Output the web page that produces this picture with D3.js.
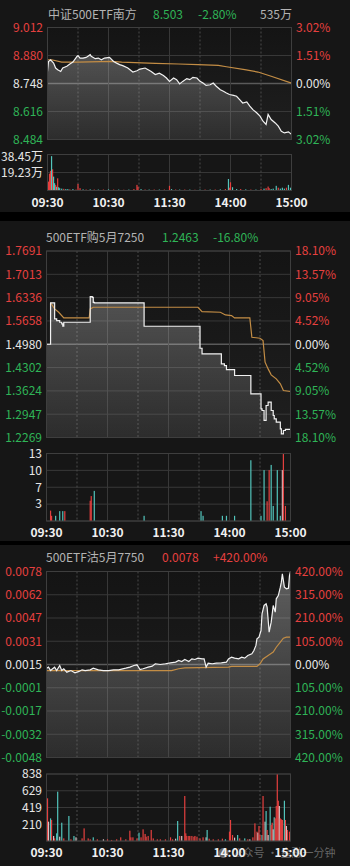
<!DOCTYPE html>
<meta charset="utf-8">
<head>
  <title>分时图</title>
</head>
<style>
body { margin: 0; background: #161616; }
text { font-family: "Noto Sans CJK SC", "Noto Sans", sans-serif; font-size: 12px; }
</style>
<body>
<script src="https://cdnjs.cloudflare.com/ajax/libs/d3/7.8.5/d3.min.js"></script>
<script>

// ---- time axis (minutes since 09:30, lunch break removed)
var timeTicks = [0, 60, 120, 180, 240];
var timeLabels = ["09:30", "10:30", "11:30", "14:00", "15:00"];

// ---- panel 1: 中证500ETF南方
var p1Min = [0,1,3,6,8,10,13,15,19,22,25,29,30,32,35,38,42,43,47,50,53,56,61,65,68,71,74,79,84,88,91,96,99,102,106,110,114,117,120,124,127,130,133,137,140,143,147,150,153,156,160,163,166,170,173,176,179,183,186,189,192,196,199,202,206,209,212,215,217,220,224,227,230,233,237,240];
var p1Price = [8.805,8.852,8.860,8.844,8.821,8.813,8.805,8.821,8.829,8.840,8.849,8.876,8.880,8.868,8.868,8.871,8.884,8.876,8.865,8.868,8.860,8.868,8.871,8.852,8.844,8.837,8.832,8.821,8.802,8.808,8.816,8.821,8.813,8.805,8.790,8.797,8.786,8.774,8.758,8.774,8.766,8.746,8.758,8.771,8.766,8.777,8.774,8.758,8.750,8.739,8.742,8.750,8.735,8.719,8.711,8.703,8.696,8.692,8.688,8.672,8.656,8.661,8.641,8.625,8.609,8.594,8.570,8.555,8.602,8.578,8.562,8.547,8.523,8.515,8.520,8.508];
var p1AvgMin = [0,4,14,30,63,73,106,129,148,168,176,194,207,220,240];
var p1Avg = [8.860,8.860,8.849,8.849,8.852,8.849,8.843,8.840,8.837,8.833,8.827,8.813,8.802,8.782,8.750];
var p1Left = ["9.012", "8.880", "8.748", "8.616", "8.484"];
var p1Right = ["3.02%", "1.51%", "0.00%", "1.51%", "3.02%"];
var v1Min = [1,2,3,4,5,6,7,8,9,10,11,12,14,16,18,20,22,25,28,30,32,35,38,42,46,50,55,60,65,70,75,80,85,88,89,92,96,100,105,110,115,120,122,126,130,135,140,145,150,155,160,165,170,175,178,179,180,182,186,190,195,200,205,210,213,215,217,218,220,222,225,227,229,231,233,235,237,239];
var v1Val = [9.5,18,21,36.7,22.6,14.8,7.8,6,4,13,3.5,2.5,2,1.8,1.5,1.5,1.2,1.5,1,7,2.5,1.2,1,1.2,1,1,1,1.2,1,1,0.8,1,1.5,6,4,1.5,1,1,1,1,1,5,1.5,1,1,1,1,0.8,1,1,1,1,1.2,1.5,12.3,3,8.8,3.5,1.5,1.5,1.2,1,1,1.5,2,2.5,4.2,2.5,1.5,2,5,3,2,3,2,3,6,3];
var v1Dir = [1,1,1,-1,1,-1,-1,1,-1,1,-1,-1,-1,1,-1,-1,1,-1,1,1,1,-1,1,-1,1,-1,1,-1,1,-1,1,-1,1,1,1,-1,1,-1,1,-1,1,1,-1,1,-1,1,-1,1,-1,1,-1,1,-1,1,-1,1,1,-1,-1,1,-1,1,-1,1,-1,1,1,1,-1,-1,-1,1,-1,-1,-1,1,-1,-1];
var v1TickVals = [38.45, 19.23];
var v1TickLabels = ["38.45万", "19.23万"];

// ---- panel 2: 500ETF购5月7250
var p2Min = [0,4,8,10,13,15,16,17,43,45,46,47,96,151,153,172,175,177,185,201,211,212,214,216,218,221,223,224,226,230,231,233,235,240];
var p2Price = [1.4980,1.6181,1.5716,1.5668,1.5619,1.5571,1.5503,1.5619,1.6365,1.6345,1.6200,1.6181,1.5503,1.4864,1.4700,1.4409,1.4361,1.4245,1.4071,1.3538,1.3103,1.3054,1.2764,1.3199,1.3296,1.3054,1.2909,1.2812,1.2715,1.2522,1.2377,1.2473,1.2503,1.2503];
var p2AvgMin = [4,6,8,12,17,42,43,46,149,153,171,176,182,185,200,202,210,213,215,218,221,226,230,233,240];
var p2Avg = [1.6181,1.6100,1.6007,1.5910,1.5745,1.5745,1.6007,1.6055,1.6055,1.5929,1.5910,1.5832,1.5813,1.5745,1.5745,1.5184,1.5155,1.5087,1.4458,1.4264,1.4090,1.3974,1.3829,1.3635,1.3606];
var p2Left = ["1.7691","1.7013","1.6336","1.5658","1.4980","1.4302","1.3624","1.2947","1.2269"];
var p2Right = ["18.10%","13.57%","9.05%","4.52%","0.00%","4.52%","9.05%","13.57%","18.10%"];
var v2Min = [4,5,9,13,16,18,43,44,47,96,152,154,173,177,185,201,211,214,217,219,221,223,227,230,232,233,235];
var v2Val = [2.0,1,1,1.9,1.9,1.9,3.9,4.8,5.8,1,1.9,1,1,1,1,11.7,1,9.8,3.8,9.8,10.8,2.9,9.8,1,9.8,12.9,2.9];
var v2Dir = [1,1,-1,-1,-1,1,1,1,-1,-1,-1,-1,-1,-1,-1,-1,-1,-1,1,1,-1,-1,-1,-1,0,1,1];
var v2TickVals = [13, 9.75, 6.5, 3.25];
var v2TickLabels = ["13", "10", "7", "3"];

// ---- panel 3: 500ETF沽5月7750
var p3Min = [0,2,4,6,8,10,13,15,17,20,24,28,32,35,38,43,46,51,56,61,66,71,78,82,86,89,92,95,100,104,107,112,117,122,127,130,133,136,140,143,146,149,153,155,157,159,163,167,172,177,179,182,185,189,192,195,198,202,204,206,207,209,211,212,214,216,217,219,221,223,225,226,228,230,231,232,234,236,238,239,240];
var p3Price = [0.00125,0.00132,0.00109,0.00121,0.00132,0.00109,0.00143,0.00109,0.00121,0.00098,0.00109,0.00094,0.00103,0.00114,0.00109,0.00114,0.00125,0.00114,0.00109,0.00109,0.00114,0.00114,0.00125,0.00132,0.00143,0.00148,0.00116,0.00121,0.00132,0.00139,0.00155,0.00150,0.00155,0.00161,0.00166,0.00177,0.00170,0.00184,0.00170,0.00188,0.00184,0.00193,0.00188,0.00188,0.00132,0.00159,0.00155,0.00159,0.00161,0.00166,0.00188,0.00200,0.00193,0.00188,0.00200,0.00193,0.00211,0.00222,0.00245,0.00279,0.00324,0.00335,0.00380,0.00493,0.00550,0.00561,0.00538,0.00369,0.00437,0.00550,0.00505,0.00595,0.00617,0.00674,0.00708,0.00764,0.00674,0.00663,0.00667,0.00753,0.00780];
var p3AvgMin = [0,32,64,123,130,136,179,182,207,210,213,218,223,226,230,233,236,240];
var p3Avg = [0.00109,0.00109,0.00109,0.00109,0.00121,0.00127,0.00132,0.00137,0.00137,0.00155,0.00188,0.00211,0.00234,0.00267,0.00301,0.00328,0.00335,0.00335];
var p3Left = ["0.0078","0.0062","0.0047","0.0031","0.0015","-0.0001","-0.0017","-0.0032","-0.0048"];
var p3Right = ["420.00%","315.00%","210.00%","105.00%","0.00%","105.00%","210.00%","315.00%","420.00%"];
var v3Min = [1,2,4,5,7,8,10,11,13,15,17,22,24,27,29,35,37,41,43,46,50,56,60,64,69,73,78,82,83,85,89,91,93,95,97,98,100,103,105,109,112,117,122,124,127,129,131,133,136,137,138,140,141,143,145,146,148,151,154,157,158,160,164,169,173,176,180,181,183,185,188,190,195,198,200,203,205,207,208,209,210,212,213,215,216,217,218,220,221,222,223,224,225,226,227,228,229,230,231,232,234,235,236,237,239];
var v3Val = [534,242,283,263,63,33,96,617,54,229,33,313,21,63,46,33,158,33,21,46,21,21,21,13,21,46,21,129,46,46,33,104,46,146,88,54,63,138,33,21,21,21,46,21,29,250,63,63,563,96,63,63,63,63,54,63,54,33,46,46,138,29,21,21,29,21,117,263,75,42,75,33,33,21,21,46,221,117,104,188,75,75,563,242,375,138,75,429,200,229,146,296,283,438,838,504,438,283,271,263,504,263,188,138,117];
var v3Dir = [1,0,-1,1,0,1,-1,-1,0,-1,1,-1,1,-1,0,1,1,1,1,-1,1,0,1,1,1,1,1,1,1,1,1,-1,1,1,1,1,1,1,1,1,1,1,1,1,0,-1,1,0,1,1,1,1,1,1,1,1,1,1,1,0,-1,1,1,1,1,-1,1,1,1,0,-1,1,-1,1,0,1,1,1,0,1,1,-1,1,0,-1,1,0,-1,1,1,0,-1,1,1,1,1,0,1,1,1,-1,1,0,1,1];
var v3TickVals = [838, 628.5, 419, 209.5];
var v3TickLabels = ["838", "629", "419", "210"];

var RED = "#e5403f", GREEN = "#2fb457", WHITE = "#e6e6e6", GRAY = "#b4b4b4";
var AVG = "#c38d45", TEAL = "#52c4bb", PALE = "#d9c3c6";

var svg = d3.select("body").append("svg").attr("width", 350).attr("height", 866);
svg.append("rect").attr("width", 350).attr("height", 866).attr("fill", "#161616");

var defs = svg.append("defs");

function zip(a, b) { return a.map(function(d, i) { return [d, b[i]]; }); }

function drawPanel(c, id) {
  var x = d3.scaleLinear().domain([0, 240]).range([c.x0, c.x1]);
  var y = d3.scaleLinear().domain(c.domain).range([c.bottom, c.top]);
  var vy = d3.scaleLinear().domain([0, c.volMax]).range([c.vBottom, c.vTop]);
  var g = svg.append("g");

  var bg = defs.append("linearGradient").attr("id", "bg" + id)
    .attr("gradientUnits", "userSpaceOnUse").attr("x1", 0).attr("x2", 0)
    .attr("y1", c.top).attr("y2", c.bottom);
  bg.append("stop").attr("offset", 0).attr("stop-color", "#141414");
  bg.append("stop").attr("offset", 1).attr("stop-color", "#1f1f1f");
  g.append("rect").attr("x", c.x0).attr("y", c.top)
    .attr("width", c.x1 - c.x0).attr("height", c.bottom - c.top).attr("fill", "url(#bg" + id + ")");

  var fg = defs.append("linearGradient").attr("id", "fill" + id)
    .attr("gradientUnits", "userSpaceOnUse").attr("x1", 0).attr("x2", 0)
    .attr("y1", c.top).attr("y2", c.bottom);
  fg.append("stop").attr("offset", 0).attr("stop-color", "#fff").attr("stop-opacity", 0.32);
  fg.append("stop").attr("offset", 1).attr("stop-color", "#fff").attr("stop-opacity", 0.06);

  // title row
  c.title.forEach(function(t) {
    g.append("text").attr("x", t[0]).attr("y", c.titleY).attr("fill", t[2]).text(t[1]);
  });

  // price grid
  var mid = (c.left.length - 1) / 2;
  var step = (c.domain[1] - c.domain[0]) / (c.left.length - 1);
  c.left.forEach(function(lab, i) {
    var v = c.domain[1] - i * step;
    var col = i < mid ? RED : (i > mid ? GREEN : WHITE);
    g.append("line").attr("x1", c.x0).attr("x2", c.x1).attr("y1", y(v)).attr("y2", y(v))
      .attr("stroke", i === mid ? "#5a5a5a" : "#383838").attr("stroke-width", i === mid ? 1.4 : 1);
    g.append("text").attr("x", c.lx).attr("y", y(v)).attr("dy", "0.36em")
      .attr("text-anchor", "end").attr("fill", col).text(lab);
    g.append("text").attr("x", c.rx).attr("y", y(v)).attr("dy", "0.36em")
      .attr("fill", col).text(c.right[i]);
  });

  // volume grid
  c.vTicks.forEach(function(v, i) {
    g.append("line").attr("x1", c.x0).attr("x2", c.x1).attr("y1", vy(v)).attr("y2", vy(v))
      .attr("stroke", "#383838");
    g.append("text").attr("x", c.lx).attr("y", vy(v) + (i === 0 ? c.vShift || 0 : 0)).attr("dy", "0.36em")
      .attr("text-anchor", "end").attr("fill", WHITE).text(c.vLabels[i]);
  });
  g.append("line").attr("x1", c.x0).attr("x2", c.x1).attr("y1", c.vBottom).attr("y2", c.vBottom)
    .attr("stroke", "#3c3c3c");

  // vertical grid
  d3.range(0, 241, 30).forEach(function(m) {
    var dashed = m % 60 === 30;
    [[c.top, c.bottom], [c.vTop, c.vBottom]].forEach(function(r) {
      g.append("line").attr("x1", x(m)).attr("x2", x(m)).attr("y1", r[0]).attr("y2", r[1])
        .attr("stroke", dashed ? "#4a4a4a" : "#383838")
        .attr("stroke-dasharray", dashed ? "2,2" : null);
    });
  });

  // area + price line
  var pts = zip(c.pMin, c.price);
  var curve = c.step ? d3.curveStepAfter : d3.curveLinear;
  g.append("path").datum(pts).attr("fill", "url(#fill" + id + ")")
    .attr("d", d3.area().curve(curve).x(function(d) { return x(d[0]); })
      .y0(c.bottom).y1(function(d) { return y(d[1]); }));
  g.append("path").datum(zip(c.aMin, c.avg)).attr("fill", "none")
    .attr("stroke", AVG).attr("stroke-width", 1.2)
    .attr("d", d3.line().x(function(d) { return x(d[0]); }).y(function(d) { return y(d[1]); }));
  g.append("path").datum(pts).attr("fill", "none").attr("stroke", "#f2f2f2").attr("stroke-width", 1.2)
    .attr("d", d3.line().curve(curve).x(function(d) { return x(d[0]); }).y(function(d) { return y(d[1]); }));

  // volume bars
  g.selectAll(".vb").data(c.vMin).enter().append("rect")
    .attr("x", function(d) { return x(d) - 0.6; })
    .attr("width", 1.2)
    .attr("y", function(d, i) { return vy(c.vVal[i]); })
    .attr("height", function(d, i) { return c.vBottom - vy(c.vVal[i]); })
    .attr("fill", function(d, i) { return c.vDir[i] > 0 ? RED : (c.vDir[i] < 0 ? TEAL : PALE); });

  // outer borders
  [[c.top, c.bottom], [c.vTop, c.vBottom]].forEach(function(r) {
    g.append("rect").attr("x", c.x0).attr("y", r[0]).attr("width", c.x1 - c.x0)
      .attr("height", r[1] - r[0]).attr("fill", "none").attr("stroke", "#3e3e3e");
  });

  // watermark (behind the time labels)
  if (c.mark) {
    g.append("text").attr("x", 218).attr("y", c.timeY).attr("dy", "0.36em")
      .attr("fill", "#8a8a8a").attr("fill-opacity", 0.7).style("font-size", "11px")
      .text("● 公众号 · 金融一分钟");
  }

  // time labels
  timeTicks.forEach(function(m, i) {
    g.append("text").attr("x", x(m)).attr("y", c.timeY).attr("dy", "0.36em")
      .attr("text-anchor", "middle").attr("fill", "#f0f0f0").attr("font-weight", "bold")
      .text(timeLabels[i]);
  });
}

drawPanel({
  x0: 47.5, x1: 291.5, top: 27.5, bottom: 139.5, vTop: 154.5, vBottom: 190.5,
  titleY: 19, timeY: 203, lx: 43, rx: 296, vShift: 2,
  domain: [8.484, 9.012], left: p1Left, right: p1Right,
  pMin: p1Min, price: p1Price, aMin: p1AvgMin, avg: p1Avg,
  volMax: 38.45, vTicks: v1TickVals, vLabels: v1TickLabels,
  vMin: v1Min, vVal: v1Val, vDir: v1Dir,
  title: [[48, "中证500ETF南方", GRAY], [153, "8.503", GREEN], [198, "-2.80%", GREEN], [260, "535万", GRAY]]
}, 1);

drawPanel({
  x0: 46.5, x1: 290.5, top: 251, bottom: 437.5, vTop: 453.5, vBottom: 521,
  titleY: 242, timeY: 533, lx: 42, rx: 295, step: true,
  domain: [1.2269, 1.7691], left: p2Left, right: p2Right,
  pMin: p2Min, price: p2Price, aMin: p2AvgMin, avg: p2Avg,
  volMax: 13, vTicks: v2TickVals, vLabels: v2TickLabels,
  vMin: v2Min, vVal: v2Val, vDir: v2Dir,
  title: [[46, "500ETF购5月7250", GRAY], [162, "1.2463", GREEN], [213, "-16.80%", GREEN]]
}, 2);

drawPanel({
  x0: 46.5, x1: 290.5, top: 571.5, bottom: 757.5, vTop: 774, vBottom: 841,
  titleY: 562, timeY: 853, lx: 42, rx: 295, mark: true,
  domain: [-0.0048, 0.0078], left: p3Left, right: p3Right,
  pMin: p3Min, price: p3Price, aMin: p3AvgMin, avg: p3Avg,
  volMax: 838, vTicks: v3TickVals, vLabels: v3TickLabels,
  vMin: v3Min, vVal: v3Val, vDir: v3Dir,
  title: [[46, "500ETF沽5月7750", GRAY], [162, "0.0078", RED], [213, "+420.00%", RED]]
}, 3);

// panel separators
svg.append("rect").attr("x", 0).attr("y", 212).attr("width", 350).attr("height", 9).attr("fill", "#000");
svg.append("rect").attr("x", 0).attr("y", 541).attr("width", 350).attr("height", 4).attr("fill", "#000");

</script>
</body>
</html>
